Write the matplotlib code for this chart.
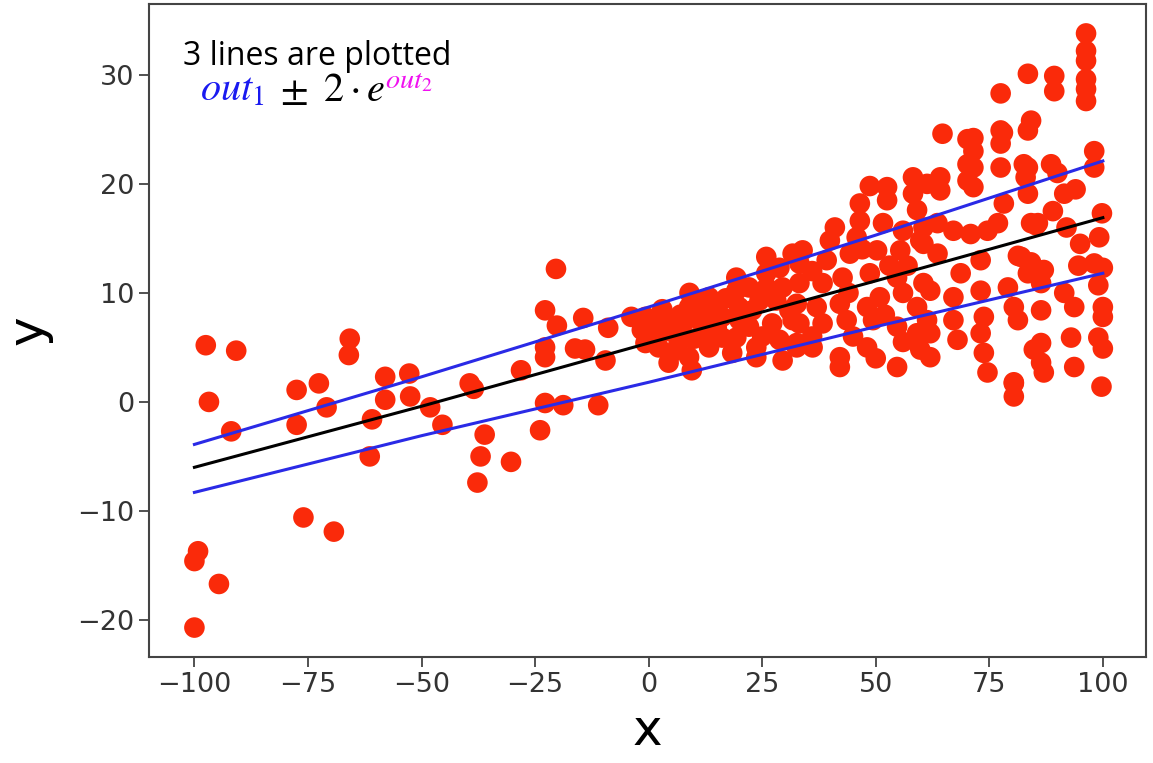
import numpy as np
import matplotlib
matplotlib.use('Agg')
import matplotlib.pyplot as plt
from matplotlib.offsetbox import TextArea, HPacker, AnchoredOffsetbox

# scatter data (x, y)
pts_left = [(-97.5, 5.2), (-90.8, 4.7), (-96.8, 0.0), (-91.9, -2.7), (-77.5, 1.1), (-72.6, 1.7),
            (-70.9, -0.5), (-77.5, -2.1), (-65.8, 5.8), (-66.0, 4.3), (-58.0, 2.3), (-52.7, 2.6),
            (-58.0, 0.2), (-52.5, 0.5), (-60.9, -1.6), (-61.4, -5.0), (-76.0, -10.6), (-69.3, -11.9),
            (-99.2, -13.7), (-100.0, -14.6), (-94.6, -16.7), (-100.0, -20.7),
            (-20.4, 12.2), (-22.8, 8.4), (-20.2, 7.0), (-14.4, 7.7), (-8.9, 6.8), (-3.8, 7.8),
            (-22.8, 5.0), (-22.8, 4.1), (-16.2, 4.9), (-14.0, 4.8), (-9.5, 3.8), (-28.1, 2.9),
            (-48.1, -0.5), (-45.4, -2.1), (-39.4, 1.7), (-38.5, 1.2), (-22.8, -0.1), (-18.8, -0.3),
            (-11.1, -0.3), (-23.9, -2.6), (-36.1, -3.0), (-37.0, -5.0), (-30.3, -5.5), (-37.7, -7.4)]

pts_0_35 = [(-0.7, 7.8), (-1.5, 6.6), (0.7, 7.5), (2.2, 7.8), (5.1, 7.5), (8.9, 8.7), (13.3, 9.6),
            (14.8, 9.0), (19.3, 11.4), (19.3, 10.2), (22.1, 10.5), (25.9, 13.3), (25.9, 11.8),
            (28.8, 12.3), (29.5, 10.5), (31.7, 13.6), (28.1, 9.3), (24.4, 9.3), (19.9, 8.7),
            (16.2, 7.8), (11.1, 7.5), (7.3, 6.9), (2.2, 6.3), (-0.7, 5.4), (2.2, 5.0), (5.1, 4.5),
            (4.4, 3.6), (8.9, 4.1), (9.5, 2.9), (13.3, 5.0), (16.2, 5.9), (19.3, 5.9), (18.4, 4.5),
            (23.7, 5.0), (23.7, 4.1), (28.8, 5.7), (29.5, 3.8), (12.6, 6.3), (22.1, 6.9), (27.2, 7.2),
            (31.7, 7.5), (32.6, 5.4), (31.0, 8.4), (6.6, 5.4), (12.6, 8.1), (22.8, 8.4), (4.0, 6.5),
            (10.0, 5.8), (15.0, 6.8), (17.0, 9.5), (20.0, 7.5), (25.0, 6.0), (9.0, 10.0), (11.0, 9.2),
            (26.0, 10.5), (3.0, 8.5), (7.0, 8.0), (0.0, 6.0)]

pts_35_60 = [(58.2, 20.6), (58.2, 19.1), (52.5, 19.7), (52.5, 18.5), (46.5, 18.2), (46.5, 16.6),
             (39.9, 14.8), (33.9, 13.9), (45.8, 15.1), (51.6, 16.4), (56.0, 15.7), (59.1, 17.6),
             (33.2, 12.7), (39.2, 13.0), (44.3, 13.6), (50.3, 13.9), (55.4, 13.9), (59.8, 14.8),
             (33.2, 10.9), (38.3, 10.9), (42.7, 11.4), (48.7, 11.8), (54.7, 11.4), (60.5, 10.9),
             (32.6, 9.0), (37.0, 8.7), (42.1, 9.0), (48.1, 8.7), (50.9, 9.6), (56.0, 10.0), (59.1, 8.7),
             (33.2, 7.2), (38.3, 7.2), (43.6, 7.5), (49.4, 7.5), (54.7, 6.9), (59.1, 6.3), (32.6, 5.0),
             (36.1, 5.0), (42.1, 4.1), (42.1, 3.2), (48.1, 5.0), (54.7, 3.2), (59.8, 4.8), (36.0, 12.0),
             (41.0, 16.0), (44.0, 10.0), (53.0, 12.5), (57.0, 12.5), (47.0, 14.0), (52.0, 8.0),
             (36.0, 6.0), (45.0, 6.0), (50.0, 4.0), (56.0, 5.5), (48.7, 19.8)]

pts_60_100 = [(83.5, 30.1), (77.5, 28.3), (64.7, 24.6), (70.2, 24.1), (71.5, 23.0), (77.5, 24.9),
              (77.5, 23.7), (77.5, 21.5), (83.5, 24.9), (83.5, 21.5), (70.2, 21.8), (70.2, 20.3),
              (64.2, 20.6), (64.2, 19.4), (61.3, 20.0), (78.2, 18.2), (83.5, 19.1), (84.2, 16.4),
              (63.6, 16.4), (67.1, 15.7), (70.9, 15.4), (74.6, 15.7), (76.9, 16.4), (60.5, 16.0),
              (60.5, 14.5), (63.6, 13.6), (73.1, 13.0), (82.0, 13.3), (83.5, 11.8), (68.7, 11.8),
              (62.0, 10.2), (67.1, 9.6), (73.1, 10.2), (79.1, 10.5), (80.4, 8.7), (61.3, 7.5),
              (67.1, 7.5), (73.8, 7.8), (62.0, 6.3), (68.0, 5.7), (73.1, 6.3), (62.0, 4.1), (73.8, 4.5),
              (74.6, 2.7), (80.4, 1.7), (80.4, 0.5), (84.8, 4.8),
              (89.3, 29.9), (89.3, 28.5), (96.3, 33.8), (96.3, 32.2), (96.3, 31.3), (96.3, 29.6),
              (96.3, 28.7), (96.3, 27.6), (84.2, 25.8), (88.6, 21.8), (98.1, 23.0), (98.1, 21.5),
              (91.5, 19.1), (99.8, 17.3), (99.2, 15.1), (85.3, 16.2), (81.3, 13.4), (84.2, 12.8),
              (87.0, 12.1), (94.6, 12.5), (98.1, 12.7), (100.0, 12.3), (99.0, 10.7), (86.4, 10.9),
              (91.5, 10.0), (81.3, 7.5), (86.4, 8.4), (93.7, 8.7), (100.0, 8.7), (100.0, 7.8),
              (93.0, 5.9), (99.0, 5.9), (100.0, 4.9), (86.4, 5.4), (86.4, 3.6), (93.7, 3.2),
              (80.4, 1.8), (99.7, 1.4), (87.0, 2.7), (85.7, 16.4), (82.6, 21.8), (83.0, 20.6),
              (71.5, 21.5), (71.5, 19.7), (71.5, 24.2), (95.0, 14.5), (92.0, 16.0), (90.0, 21.0),
              (78.0, 24.7), (94.0, 19.5), (89.0, 17.5)]

# three lines read at a few x positions: out1 and out1 +/- 2*exp(out2)
line_x = [-100, -50, 0, 50, 100]
line_mid = [-6.0, -0.4, 5.4, 11.1, 16.9]
line_up = [-3.9, 2.3, 8.7, 15.3, 22.1]
line_low = [-8.3, -3.1, 1.8, 6.9, 11.8]

pts = np.array(pts_left + pts_0_35 + pts_35_60 + pts_60_100)
x, y = pts[:, 0], pts[:, 1]

plt.rcParams['mathtext.fontset'] = 'stix'

fig = plt.figure(figsize=(11.53, 7.63), dpi=100)
ax = fig.add_axes([149 / 1153, 1 - 657 / 763, (1146 - 149) / 1153, (657 - 4) / 763])

ax.scatter(x, y, s=220, color='#fa2a0a', edgecolors='none', zorder=2)
ax.plot(line_x, line_mid, color='black', lw=2.2, zorder=3)
ax.plot(line_x, line_up, color='#2a2ae6', lw=2.2, zorder=3)
ax.plot(line_x, line_low, color='#2a2ae6', lw=2.2, zorder=3)

ax.set_xlim(-110, 109.5)
ax.set_ylim(-23.4, 36.5)
ax.set_xticks([-100, -75, -50, -25, 0, 25, 50, 75, 100])
ax.set_yticks([-20, -10, 0, 10, 20, 30])
ax.tick_params(labelsize=19.5, length=7, width=1.2, colors='#333333', labelcolor='#333333')
for sp in ax.spines.values():
    sp.set_color('#444444')
    sp.set_linewidth(1.5)
ax.set_xlabel('x', fontsize=36, labelpad=7)
ax.set_ylabel('y', fontsize=36, labelpad=18)

# annotation text
fig.text(183 / 1153, 1 - 65 / 763, '3 lines are plotted', fontsize=23, family='Open Sans', color='black')
# formula out_1 ± 2·e^{out_2}, each part in its own colour
parts = [TextArea(r'$out_1$', textprops=dict(color='#1a1af0', fontsize=29)),
         TextArea(r'$\ \pm\ 2\cdot e$', textprops=dict(color='black', fontsize=29)),
         TextArea(r'${}^{out_2}$', textprops=dict(color='#f010f0', fontsize=29))]
box = HPacker(children=parts, align='baseline', pad=0, sep=0)
anch = AnchoredOffsetbox(loc='lower left', child=box, pad=0, frameon=False,
                         bbox_to_anchor=(200 / 1153, 1 - 110 / 763), bbox_transform=fig.transFigure,
                         borderpad=0)
fig.add_artist(anch)

plt.savefig('out.png', dpi=100)
